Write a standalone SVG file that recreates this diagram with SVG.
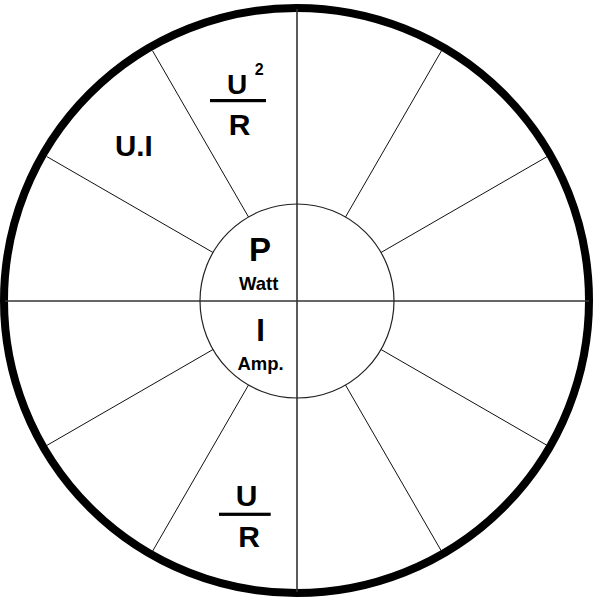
<svg xmlns="http://www.w3.org/2000/svg" width="599" height="601" viewBox="0 0 599 601">
<style>
.t{font-family:"Liberation Sans",Arial,sans-serif;font-weight:bold;fill:#000}
.spoke{stroke:#111;stroke-width:1;fill:none}
.axis{stroke:#333;stroke-width:1.6;fill:none}
</style>
<rect width="599" height="601" fill="#fff"/>
<g id="outer"><circle cx="296.5" cy="300.5" r="292.5" fill="#fff" stroke="#000" stroke-width="8"/></g>
<g id="connectors">
<line class="axis" x1="297" y1="9" x2="297" y2="592"/>
<line class="axis" x1="5" y1="301" x2="589" y2="301"/>
<line class="spoke" x1="345.5" y1="217" x2="441.5" y2="50.7"/>
<line class="spoke" x1="381" y1="252.5" x2="547.3" y2="156.5"/>
<line class="spoke" x1="248.5" y1="217" x2="152.5" y2="50.7"/>
<line class="spoke" x1="213" y1="252.5" x2="46.7" y2="156.5"/>
<line class="spoke" x1="213" y1="349.5" x2="46.7" y2="445.5"/>
<line class="spoke" x1="248.5" y1="385" x2="152.5" y2="551.3"/>
<line class="spoke" x1="345.5" y1="385" x2="441.5" y2="551.3"/>
<line class="spoke" x1="381" y1="349.5" x2="547.3" y2="445.5"/>
</g>
<g id="inner"><circle cx="297" cy="301" r="97" fill="none" stroke="#222" stroke-width="1.2"/></g>
<g id="power">
<text class="t" x="260" y="261" font-size="33" text-anchor="middle">P</text>
<text class="t" x="239" y="289.5" font-size="18.5">Watt</text>
</g>
<g id="current">
<text class="t" x="260.5" y="341" font-size="31" text-anchor="middle">I</text>
<text class="t" x="237.5" y="370" font-size="18.5">Amp.</text>
</g>
<g id="ui">
<text class="t" x="115" y="155.7" font-size="29.5">U.I</text>
</g>
<g id="u2r">
<text class="t" x="237.2" y="94.3" font-size="28" text-anchor="middle">U</text>
<text class="t" x="259.2" y="75" font-size="16" text-anchor="middle">2</text>
<rect x="210" y="99" width="56" height="3.2" fill="#000"/>
<text class="t" x="239.5" y="135" font-size="30" text-anchor="middle">R</text>
</g>
<g id="ur">
<text class="t" x="246.5" y="505.7" font-size="30" text-anchor="middle">U</text>
<rect x="219" y="512.7" width="51.7" height="3.2" fill="#000"/>
<text class="t" x="249" y="546.7" font-size="30" text-anchor="middle">R</text>
</g>
</svg>
